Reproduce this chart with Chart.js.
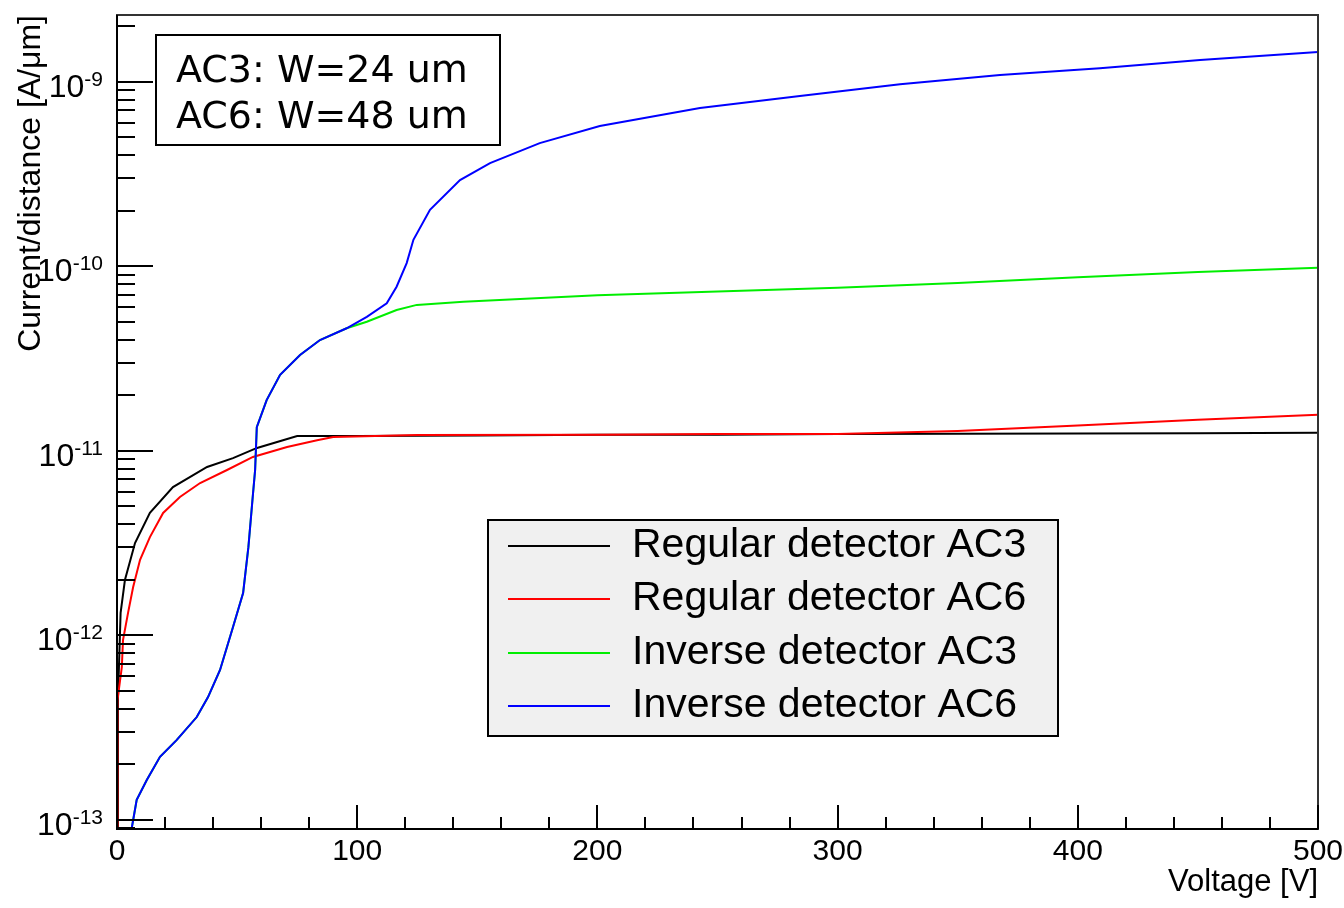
<!DOCTYPE html>
<html>
<head>
<meta charset="utf-8">
<title>Current/distance vs Voltage</title>
<script src="https://cdn.jsdelivr.net/npm/chart.js@4.4.0/dist/chart.umd.min.js"></script>
<style>
  html, body { margin: 0; padding: 0; background: #fff; }
  #wrap { width: 1344px; height: 908px; position: relative; }
</style>
</head>
<body>
<div id="wrap"><canvas id="iv-chart"></canvas></div>
<script>
// IV curves: voltage [V] and current per distance [A/um]

const SERIES_LABELS = [
  "Regular detector AC3",
  "Regular detector AC6",
  "Inverse detector AC3",
  "Inverse detector AC6"
];
const SERIES_COLORS = ["#000000", "#ff0000", "#00ee00", "#0000ff"];

const NOTE_LINES = ["AC3: W=24 um", "AC6: W=48 um"];

const X_TICK_LABELS = [0, 100, 200, 300, 400, 500];
const Y_DECADES = [-13, -12, -11, -10, -9];

const regAC3Volts = [0, 0.4, 1.5, 3.3, 7.5, 13.7, 23.3, 37.5, 48.3, 58.3, 69.1, 75,
  100, 150, 200, 250, 300, 350, 400, 450, 500];
const regAC3Curr = [9e-14, 4.5e-13, 1.32e-12, 1.99e-12, 3.16e-12, 4.6e-12, 6.35e-12,
  8.16e-12, 9.12e-12, 1.035e-11, 1.14e-11, 1.2e-11,
  1.2e-11, 1.21e-11, 1.22e-11, 1.22e-11, 1.23e-11, 1.235e-11, 1.24e-11, 1.245e-11, 1.25e-11];

const regAC6Volts = [0, 0.2, 2.0, 2.5, 4.6, 6.7, 9.6, 13.7, 19.2, 26.2, 34.6, 45.8,
  56.6, 70.8, 83.3, 90, 125, 200, 250, 300, 350, 400, 450, 500];
const regAC6Curr = [9e-14, 4.45e-13, 6.7e-13, 9.4e-13, 1.32e-12, 1.82e-12, 2.56e-12,
  3.4e-12, 4.6e-12, 5.61e-12, 6.68e-12, 7.86e-12, 9.25e-12, 1.047e-11, 1.14e-11,
  1.186e-11, 1.217e-11, 1.22e-11, 1.23e-11, 1.23e-11, 1.28e-11, 1.37e-11, 1.47e-11, 1.567e-11];

const invAC3Volts = [5.8, 8.2, 12.4, 17.9, 24.8, 33.2, 37.9, 42.9, 48.3, 52.5, 54.7,
  56.5, 57.5, 58.2, 62.3, 67.9, 76.2, 84.5, 95.6, 104, 116.4, 124.8, 144.2,
  200, 250, 300, 350, 400, 450, 500];
const invAC3Curr = [8.5e-14, 1.28e-13, 1.64e-13, 2.19e-13, 2.7e-13, 3.6e-13, 4.62e-13,
  6.48e-13, 1.107e-12, 1.69e-12, 3.0e-12, 5.61e-12, 7.86e-12, 1.34e-11, 1.88e-11,
  2.58e-11, 3.3e-11, 3.98e-11, 4.61e-11, 5.0e-11, 5.79e-11, 6.17e-11, 6.42e-11,
  6.95e-11, 7.3e-11, 7.65e-11, 8.1e-11, 8.7e-11, 9.3e-11, 9.8e-11];

const invAC6Volts = [5.8, 8.2, 12.4, 17.9, 24.8, 33.2, 37.9, 42.9, 48.3, 52.5, 54.7,
  56.5, 57.5, 58.2, 62.3, 67.9, 76.2, 84.5, 95.6, 104, 112.3, 116.4, 120.6, 123.4,
  130.3, 142.8, 155.3, 176, 201, 242.7, 284.3, 326, 367.6, 409.2, 450.9, 500];
const invAC6Curr = [8.5e-14, 1.28e-13, 1.64e-13, 2.19e-13, 2.7e-13, 3.6e-13, 4.62e-13,
  6.48e-13, 1.107e-12, 1.69e-12, 3.0e-12, 5.61e-12, 7.86e-12, 1.34e-11, 1.88e-11,
  2.58e-11, 3.3e-11, 3.98e-11, 4.61e-11, 5.32e-11, 6.29e-11, 7.74e-11, 1.04e-10,
  1.39e-10, 2.02e-10, 2.93e-10, 3.62e-10, 4.65e-10, 5.75e-10, 7.2e-10, 8.36e-10,
  9.68e-10, 1.087e-9, 1.182e-9, 1.311e-9, 1.449e-9];

const SERIES_X = [regAC3Volts, regAC6Volts, invAC3Volts, invAC6Volts];
const SERIES_Y = [regAC3Curr, regAC6Curr, invAC3Curr, invAC6Curr];

function toPoints(xs, ys) {
  return xs.map((v, i) => ({ x: v, y: ys[i] }));
}

const SANS = "'Liberation Sans', Arial, Helvetica, sans-serif";

// ROOT-style frame: inner ticks, 10^n labels, legend box and note box
const rootDecor = {
  id: "rootDecor",
  afterDatasetsDraw(chart) {
    const { ctx, chartArea: a, scales } = chart;
    const xs = scales.x, ys = scales.y;
    ctx.save();

    // frame
    ctx.strokeStyle = "#333";
    ctx.lineWidth = 2;
    ctx.strokeRect(a.left, a.top, a.right - a.left, a.bottom - a.top);
    ctx.strokeStyle = "#000";
    ctx.beginPath();
    ctx.moveTo(a.left, a.top);
    ctx.lineTo(a.left, a.bottom);
    ctx.lineTo(a.right, a.bottom);
    ctx.stroke();

    // x ticks (inside, pointing up)
    ctx.beginPath();
    xs.ticks.forEach(t => {
      const px = Math.round(xs.getPixelForValue(t.value));
      const len = t.value % 100 === 0 ? 24 : 12;
      ctx.moveTo(px, a.bottom);
      ctx.lineTo(px, a.bottom - len);
    });
    ctx.stroke();

    // y ticks (inside, pointing right)
    ctx.beginPath();
    for (let e = -14; e <= -8; e++) {
      for (let m = 1; m <= 9; m++) {
        const v = m * Math.pow(10, e);
        if (v < ys.min || v > ys.max) continue;
        const py = Math.round(ys.getPixelForValue(v));
        ctx.moveTo(a.left, py);
        ctx.lineTo(a.left + (m === 1 ? 36 : 18), py);
      }
    }
    ctx.stroke();

    // y labels: 10 with superscript exponent, right aligned
    ctx.fillStyle = "#000";
    ctx.textBaseline = "alphabetic";
    Y_DECADES.forEach(e => {
      const py = ys.getPixelForValue(Math.pow(10, e));
      const right = a.left - 14;
      ctx.font = "21px " + SANS;
      ctx.textAlign = "right";
      const sup = String(e);
      const supW = ctx.measureText(sup).width;
      ctx.fillText(sup, right, py + 4);
      ctx.font = "32px " + SANS;
      ctx.fillText("10", right - supW, py + 15);
    });

    ctx.restore();
  },
  afterDraw(chart) {
    const { ctx } = chart;
    ctx.save();

    // note box
    ctx.fillStyle = "#fff";
    ctx.fillRect(156, 35, 344, 110);
    ctx.strokeStyle = "#000";
    ctx.lineWidth = 2;
    ctx.strokeRect(156, 35, 344, 110);
    ctx.fillStyle = "#000";
    ctx.font = "38px 'DejaVu Sans', Verdana, sans-serif";
    ctx.textAlign = "left";
    ctx.textBaseline = "alphabetic";
    ctx.fillText(NOTE_LINES[0], 176, 82);
    ctx.fillText(NOTE_LINES[1], 176, 128);

    // legend box
    ctx.fillStyle = "#f0f0f0";
    ctx.fillRect(488, 520, 570, 216);
    ctx.strokeRect(488, 520, 570, 216);
    ctx.font = "41px " + SANS;
    ctx.textBaseline = "middle";
    const rows = [546, 599, 653, 706];
    chart.data.datasets.forEach((ds, i) => {
      ctx.strokeStyle = ds.borderColor;
      ctx.lineWidth = 2;
      ctx.beginPath();
      ctx.moveTo(508, rows[i]);
      ctx.lineTo(610, rows[i]);
      ctx.stroke();
      ctx.fillStyle = "#000";
      ctx.fillText(ds.label, 632, rows[i]);
    });

    ctx.restore();
  }
};

const datasets = SERIES_LABELS.map((label, i) => ({
  label: label,
  data: toPoints(SERIES_X[i], SERIES_Y[i]),
  borderColor: SERIES_COLORS[i],
  backgroundColor: SERIES_COLORS[i],
  borderWidth: 2,
  pointRadius: 0,
  tension: 0,
  fill: false,
  order: 4 - i // later series drawn on top, like ROOT
}));

new Chart(document.getElementById("iv-chart"), {
  type: "line",
  data: { datasets },
  options: {
    responsive: true,
    maintainAspectRatio: false,
    animation: false,
    devicePixelRatio: 1,
    layout: { padding: { left: 0, top: 15, right: 26, bottom: 0 } },
    plugins: {
      legend: { display: false },
      tooltip: { enabled: false }
    },
    scales: {
      x: {
        type: "linear",
        min: 0,
        max: 500,
        grid: { display: false, drawTicks: false },
        border: { display: false },
        ticks: {
          stepSize: 20,
          autoSkip: false,
          maxRotation: 0,
          padding: 5,
          color: "#000",
          font: { family: SANS, size: 30 },
          callback: v => (X_TICK_LABELS.includes(v) ? String(v) : "")
        },
        title: {
          display: true,
          text: "Voltage [V]",
          align: "end",
          color: "#000",
          font: { family: SANS, size: 31 },
          padding: { top: 0, bottom: 7 }
        },
        afterFit: s => {
          s.height = 79;
          s.paddingLeft = 0;
          s.paddingRight = 0;
        }
      },
      y: {
        type: "logarithmic",
        min: 8.9e-14,
        max: 2.3e-9,
        grid: { display: false, drawTicks: false },
        border: { display: false },
        ticks: { display: false },
        title: {
          display: true,
          text: "Current/distance [A/μm]",
          align: "end",
          color: "#000",
          font: { family: SANS, size: 32 },
          padding: { top: 12, bottom: 0 }
        },
        afterFit: s => { s.width = 117; }
      }
    }
  },
  plugins: [rootDecor]
});
</script>
</body>
</html>
